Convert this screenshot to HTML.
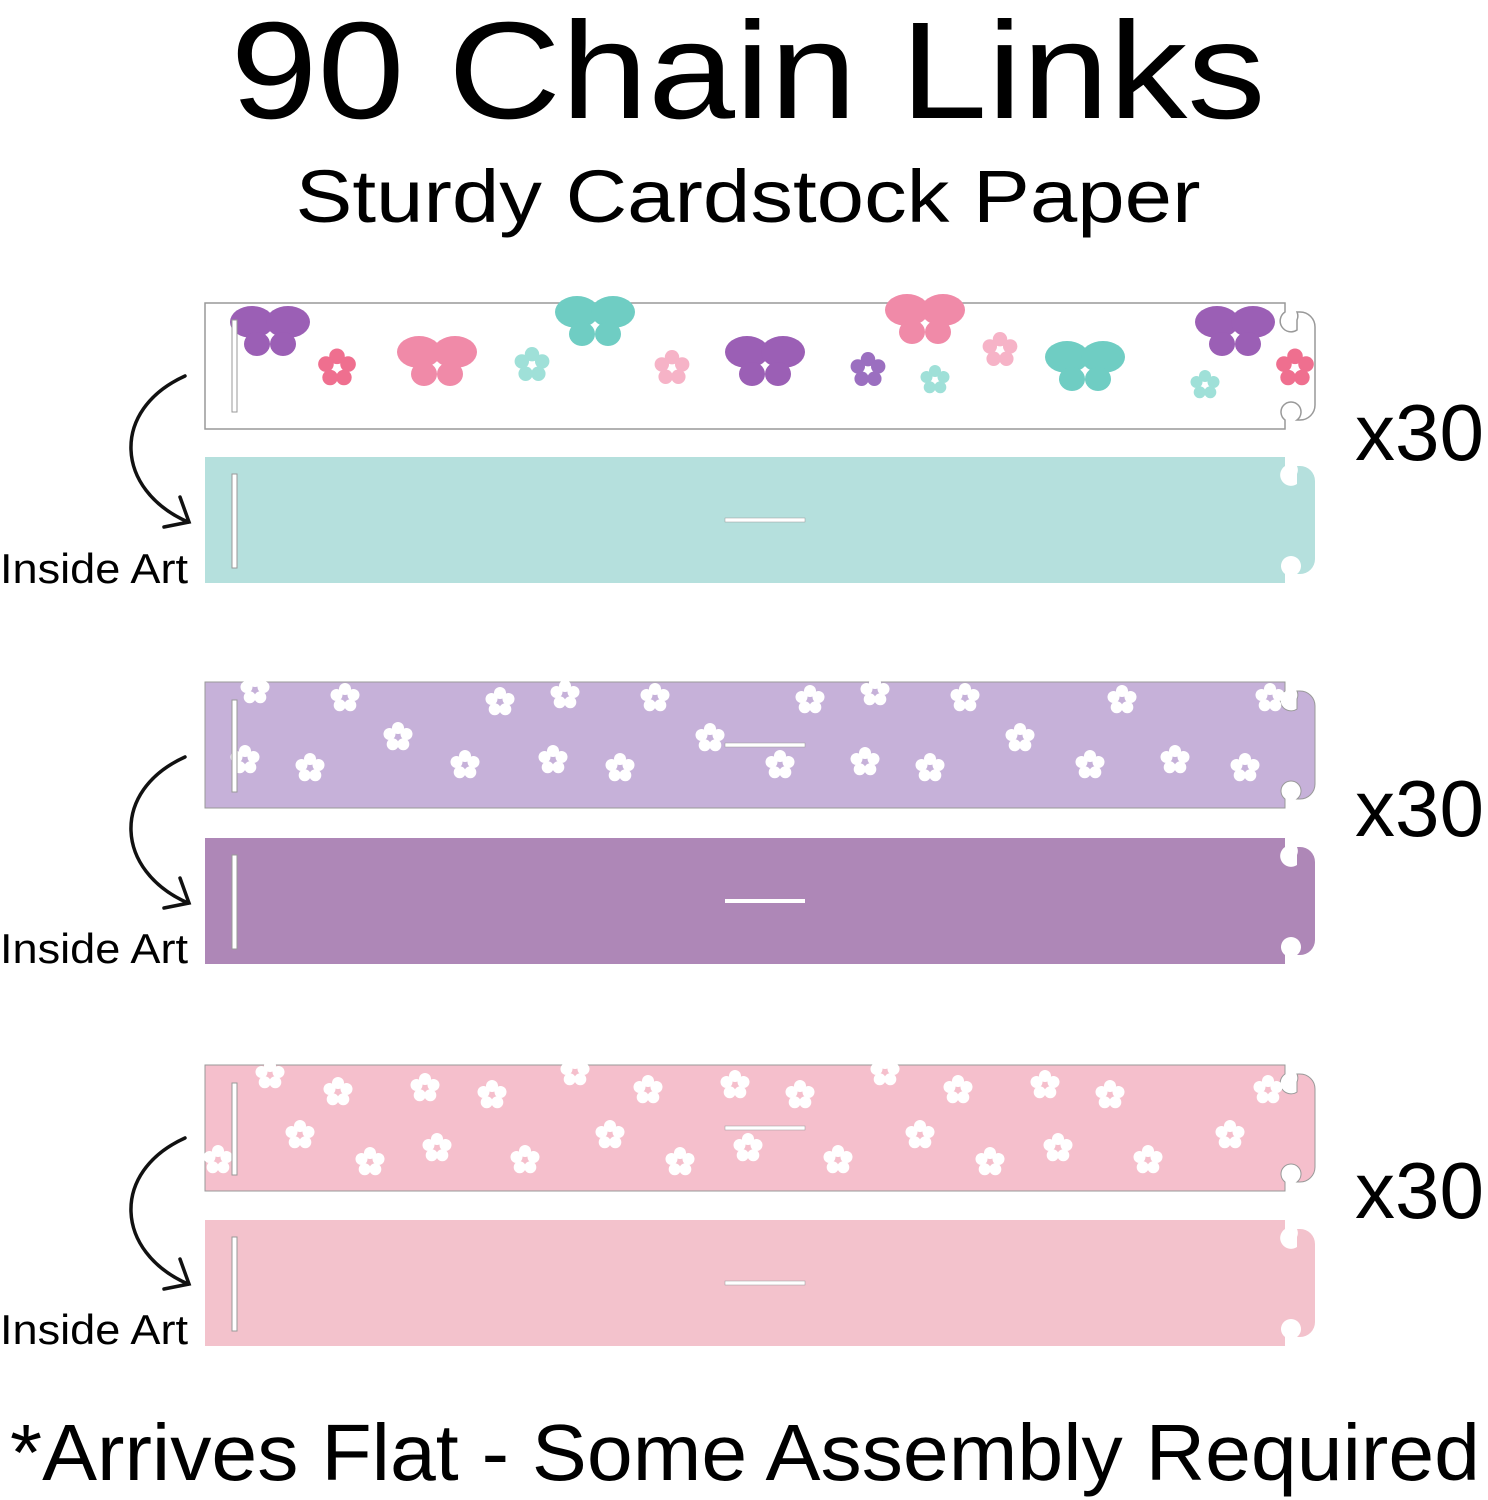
<!DOCTYPE html>
<html><head><style>body{margin:0;background:#fff}svg{display:block}</style></head><body>
<svg width="1488" height="1500" viewBox="0 0 1488 1500" xmlns="http://www.w3.org/2000/svg" font-family="'Liberation Sans',sans-serif">
<defs>
<g id="fl"><circle cx="0" cy="-9" r="6"/><circle cx="8.5" cy="-3" r="6"/><circle cx="5.3" cy="7.3" r="6"/><circle cx="-5.3" cy="7.3" r="6"/><circle cx="-8.5" cy="-3" r="6"/></g>
<g id="bf"><ellipse cx="-18" cy="-8" rx="22" ry="16"/><ellipse cx="18" cy="-8" rx="22" ry="16"/><ellipse cx="-13" cy="14" rx="13" ry="12"/><ellipse cx="13" cy="14" rx="13" ry="12"/></g>
</defs>
<text x="748" y="118" font-size="138" text-anchor="middle" textLength="1035" lengthAdjust="spacingAndGlyphs">90 Chain Links</text>
<text x="748" y="222" font-size="74" text-anchor="middle" textLength="905" lengthAdjust="spacingAndGlyphs">Sturdy Cardstock Paper</text>
<text x="745" y="1480" font-size="80" text-anchor="middle" textLength="1470" lengthAdjust="spacingAndGlyphs">*Arrives Flat - Some Assembly Required</text>

<g>
<path d="M205,303 H1285 V312 A10,10 0 1 0 1297,330 V320 A10,10 0 0 0 1297,312 H1300 A15,15 0 0 1 1315,327 V405 A15,15 0 0 1 1300,420 H1297 A10,10 0 1 0 1285,420 V429 H205 Z" fill="#fff" stroke="#999" stroke-width="1.5"/>
<g fill="#9b5fb5"><use href="#bf" transform="translate(270,330)"/><use href="#bf" transform="translate(765,360)"/><use href="#bf" transform="translate(1235,330)"/></g>
<g fill="#f08aa8"><use href="#bf" transform="translate(437,360)"/><use href="#bf" transform="translate(925,318)"/></g>
<g fill="#6fcdc3"><use href="#bf" transform="translate(595,320)"/><use href="#bf" transform="translate(1085,365)"/></g>
<g fill="#ef6f8f"><use href="#fl" transform="translate(337,368) scale(1.3)"/><use href="#fl" transform="translate(1295,368) scale(1.3)"/></g>
<g fill="#f6b3c7"><use href="#fl" transform="translate(672,368) scale(1.2)"/><use href="#fl" transform="translate(1000,350) scale(1.2)"/></g>
<g fill="#9b6fc0"><use href="#fl" transform="translate(868,370) scale(1.2)"/></g>
<g fill="#9fe0d8"><use href="#fl" transform="translate(532,365) scale(1.2)"/><use href="#fl" transform="translate(935,380)"/><use href="#fl" transform="translate(1205,385)"/></g>
<rect x="232" y="320" width="5" height="92" fill="#fff" stroke="#999"/>
</g>
<g>
<path d="M205,457 H1285 V466 A10,10 0 1 0 1297,484 V474 A10,10 0 0 0 1297,466 H1300 A15,15 0 0 1 1315,481 V559 A15,15 0 0 1 1300,574 H1297 A10,10 0 1 0 1285,574 V583 H205 Z" fill="#b5e0dd"/>
<rect x="232" y="474" width="5" height="94" fill="#fff" stroke="#999"/>
<rect x="725" y="518" width="80" height="4" fill="#fff" stroke="#999" stroke-width=".5"/>
</g>
<g>
<path d="M205,682 H1285 V691 A10,10 0 1 0 1297,709 V699 A10,10 0 0 0 1297,691 H1300 A15,15 0 0 1 1315,706 V784 A15,15 0 0 1 1300,799 H1297 A10,10 0 1 0 1285,799 V808 H205 Z" fill="#c6b1d9" stroke="#999" stroke-width="1"/>
<g fill="#fff">
<use href="#fl" transform="translate(255,690)"/><use href="#fl" transform="translate(345,698)"/><use href="#fl" transform="translate(398,737)"/><use href="#fl" transform="translate(310,768)"/><use href="#fl" transform="translate(245,760)"/><use href="#fl" transform="translate(465,765)"/><use href="#fl" transform="translate(500,702)"/><use href="#fl" transform="translate(553,760)"/><use href="#fl" transform="translate(620,768)"/><use href="#fl" transform="translate(655,698)"/><use href="#fl" transform="translate(710,738)"/><use href="#fl" transform="translate(780,765)"/><use href="#fl" transform="translate(810,700)"/><use href="#fl" transform="translate(865,762)"/><use href="#fl" transform="translate(930,768)"/><use href="#fl" transform="translate(965,698)"/><use href="#fl" transform="translate(1020,738)"/><use href="#fl" transform="translate(1090,765)"/><use href="#fl" transform="translate(1122,700)"/><use href="#fl" transform="translate(1175,760)"/><use href="#fl" transform="translate(1245,768)"/><use href="#fl" transform="translate(1270,698)"/><use href="#fl" transform="translate(565,695)"/><use href="#fl" transform="translate(875,692)"/>
</g>
<rect x="232" y="700" width="5" height="92" fill="#fff" stroke="#999"/>
<rect x="725" y="743" width="80" height="4" fill="#fff" stroke="#999" stroke-width=".5"/>
</g>
<g>
<path d="M205,838 H1285 V847 A10,10 0 1 0 1297,865 V855 A10,10 0 0 0 1297,847 H1300 A15,15 0 0 1 1315,862 V940 A15,15 0 0 1 1300,955 H1297 A10,10 0 1 0 1285,955 V964 H205 Z" fill="#ae87b7"/>
<rect x="232" y="855" width="5" height="94" fill="#fff" stroke="#999"/>
<rect x="725" y="899" width="80" height="4" fill="#fff"/>
</g>
<g>
<path d="M205,1065 H1285 V1074 A10,10 0 1 0 1297,1092 V1082 A10,10 0 0 0 1297,1074 H1300 A15,15 0 0 1 1315,1089 V1167 A15,15 0 0 1 1300,1182 H1297 A10,10 0 1 0 1285,1182 V1191 H205 Z" fill="#f5bfcc" stroke="#999" stroke-width="1"/>
<g fill="#fff">
<use href="#fl" transform="translate(270,1075)"/><use href="#fl" transform="translate(338,1092)"/><use href="#fl" transform="translate(425,1088)"/><use href="#fl" transform="translate(300,1135)"/><use href="#fl" transform="translate(218,1160)"/><use href="#fl" transform="translate(370,1162)"/><use href="#fl" transform="translate(437,1148)"/><use href="#fl" transform="translate(492,1095)"/><use href="#fl" transform="translate(525,1160)"/><use href="#fl" transform="translate(610,1135)"/><use href="#fl" transform="translate(648,1090)"/><use href="#fl" transform="translate(680,1162)"/><use href="#fl" transform="translate(735,1085)"/><use href="#fl" transform="translate(800,1095)"/><use href="#fl" transform="translate(748,1148)"/><use href="#fl" transform="translate(838,1160)"/><use href="#fl" transform="translate(920,1135)"/><use href="#fl" transform="translate(958,1090)"/><use href="#fl" transform="translate(990,1162)"/><use href="#fl" transform="translate(1045,1085)"/><use href="#fl" transform="translate(1110,1095)"/><use href="#fl" transform="translate(1058,1148)"/><use href="#fl" transform="translate(1148,1160)"/><use href="#fl" transform="translate(1230,1135)"/><use href="#fl" transform="translate(1268,1090)"/><use href="#fl" transform="translate(885,1072)"/><use href="#fl" transform="translate(575,1072)"/>
</g>
<rect x="232" y="1083" width="5" height="92" fill="#fff" stroke="#999"/>
<rect x="725" y="1126" width="80" height="4" fill="#fff" stroke="#999" stroke-width=".5"/>
</g>
<g>
<path d="M205,1220 H1285 V1229 A10,10 0 1 0 1297,1247 V1237 A10,10 0 0 0 1297,1229 H1300 A15,15 0 0 1 1315,1244 V1322 A15,15 0 0 1 1300,1337 H1297 A10,10 0 1 0 1285,1337 V1346 H205 Z" fill="#f3c2cc"/>
<rect x="232" y="1237" width="5" height="94" fill="#fff" stroke="#999"/>
<rect x="725" y="1281" width="80" height="4" fill="#fff" stroke="#999" stroke-width=".5"/>
</g>

<g font-size="80"><text x="1355" y="460">x30</text><text x="1355" y="836">x30</text><text x="1355" y="1218">x30</text></g>
<g font-size="42"><text x="0" y="583" textLength="188" lengthAdjust="spacingAndGlyphs">Inside Art</text><text x="0" y="963" textLength="188" lengthAdjust="spacingAndGlyphs">Inside Art</text><text x="0" y="1344" textLength="188" lengthAdjust="spacingAndGlyphs">Inside Art</text></g>
<g fill="none" stroke="#111" stroke-width="3.5" stroke-linecap="round">
<path d="M185,376 C110,410 115,490 188,522"/><path d="M180,497 L189,522 L164,527"/>
<path d="M185,757 C110,791 115,871 188,903"/><path d="M180,878 L189,903 L164,908"/>
<path d="M185,1138 C110,1172 115,1252 188,1284"/><path d="M180,1259 L189,1284 L164,1289"/>
</g>
</svg>
</body></html>
